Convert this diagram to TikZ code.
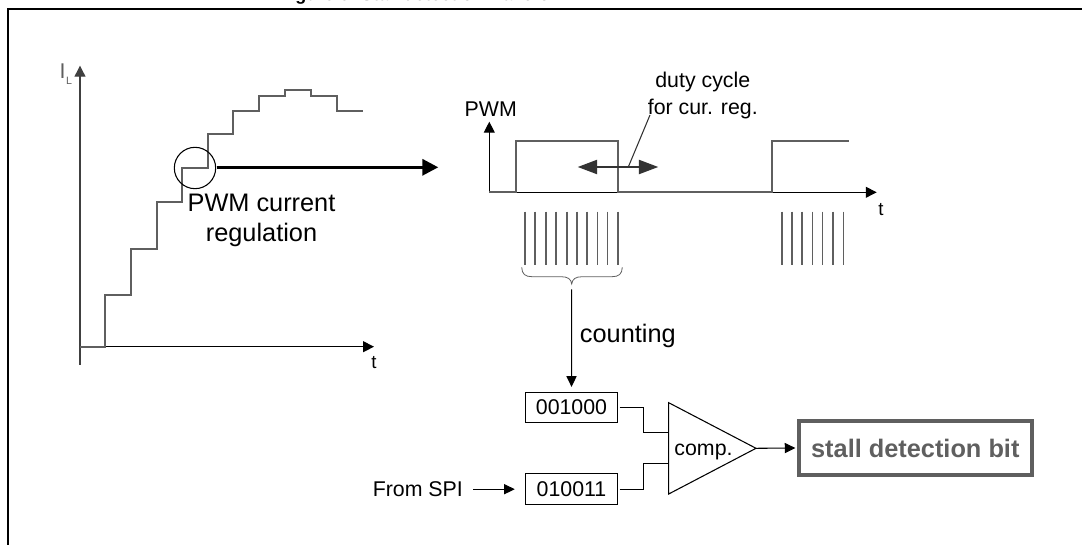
\documentclass[tikz,border=0pt]{standalone}
\usepackage{fontspec}
\setmainfont{Liberation Sans}
\usetikzlibrary{arrows.meta}
\definecolor{gr}{HTML}{5F5F5F}
\definecolor{dk}{HTML}{333333}
\tikzset{
 axis/.style={draw=black,line width=0.85pt,-{Triangle[length=8.2pt,width=8.2pt]}},
 trace/.style={draw=gr,line width=1.25pt,line join=miter},
 conn/.style={draw=black,line width=0.8pt},
 arr/.style={draw=black,line width=0.8pt,-{Triangle[length=8pt,width=7.6pt]}},
 reg/.style={draw=black,line width=0.8pt,minimum width=69.3pt,minimum height=23pt,inner sep=0pt,font=\fontsize{16}{16}\selectfont},
 txt/.style={inner sep=0pt,anchor=base,align=center,font=\fontsize{16}{20}\selectfont},
 txtl/.style={inner sep=0pt,anchor=base,align=center,font=\fontsize{19}{22.5}\selectfont},
 tickmark/.style={draw=gr,line width=1.2pt}
}
\begin{document}
\begin{tikzpicture}[x=0.75pt,y=-0.75pt]
\useasboundingbox (0,0) rectangle (1082,545);
\begin{scope}
\clip (0,0) rectangle (1082,545);
\node[anchor=base west,inner sep=0pt,font=\bfseries\fontsize{13.5}{13.5}\selectfont] (title) at (279,0.3) {Figure 6. Stall detection waveform};
\end{scope}
\coordinate (f0) at (7.7,545); \coordinate (f1) at (7.7,9); \coordinate (f2) at (1082,9);
\draw[line width=1.5pt,line join=miter] (f0) -- (f1) -- (f2);
% left plot
\coordinate (o) at (80,346.7); \coordinate (ybot) at (80,365); \coordinate (yend) at (80,65.7); \coordinate (xend) at (374,346.7);
\draw[axis,draw=black!75] (ybot) -- (yend);
\draw[axis] (o) -- (xend);
\draw[trace] (o) -- (105.3,346.7) -- (105.3,295) -- (131,295) -- (131,249) -- (156.7,249) -- (156.7,202.3) -- (182.3,202.3) -- (182.3,167.7) -- (207.7,167.7) -- (207.7,134) -- (233.3,134) -- (233.3,111) -- (259.3,111) -- (259.3,96) -- (285,96) -- (285,90.3) -- (310.7,90.3) -- (310.7,96) -- (336.7,96) -- (336.7,111.3) -- (362.7,111.3);
\node[inner sep=0pt,anchor=base,text=gr,font=\fontsize{16}{16}\selectfont] (il) at (62.5,78.3) {I};
\node[inner sep=0pt,anchor=base,text=gr,font=\fontsize{8}{8}\selectfont] (ils) at (69.2,85) {L};
\node[inner sep=0pt,anchor=base,font=\fontsize{14}{14}\selectfont] (tl) at (374,368.3) {t};
\node[circle,draw=black,line width=0.8pt,minimum size=31pt,inner sep=0pt] (circ) at (195,168) {};
\coordinate (bigstart) at (216.7,167.3); \coordinate (bigend) at (438.3,167.3);
\draw[line width=2.5pt,-{Triangle[length=12pt,width=12pt]}] (bigstart) -- (bigend);
\node[txtl] (pwmreg) at (261.5,241.7) {PWM current\\regulation};
% PWM plot
\node[txt] (pwm) at (490.8,116.7) {PWM};
\coordinate (p0) at (489.3,192.3); \coordinate (py) at (489.3,121.7); \coordinate (px) at (876.7,192.3);
\draw[axis] (p0) -- (py);
\draw[axis] (p0) -- (px);
\draw[trace] (p0) -- (515.7,192.3) -- (515.7,141.3) -- (617.7,141.3) -- (617.7,192.3) -- (771.7,192.3) -- (771.7,141.3) -- (849.3,141.3);
\node[inner sep=0pt,anchor=base,font=\fontsize{14}{14}\selectfont] (tp) at (881,216) {t};
\node[txt] (duty) at (702.8,114.3) {duty cycle\\for cur. reg.};
\coordinate (da) at (577.7,167); \coordinate (db) at (658.3,167); \coordinate (dm) at (628.3,167); \coordinate (dt) at (650,115);
\draw[dk,line width=1.5pt,{Triangle[length=14.5pt,width=10.5pt]}-{Triangle[length=14.5pt,width=10.5pt]}] (da) -- (db);
\draw[dk,line width=0.8pt] (dm) -- (dt);
\foreach \x in {525,535,545.7,556,566.7,576.7,587,597.3,607.3,617.7}{\draw[tickmark] (\x,211.7) -- (\x,265);}
\foreach \x in {781.7,791.7,802,812.3,822.3,832.7,843.3}{\draw[tickmark] (\x,211.7) -- (\x,265);}
\coordinate (bl) at (521.7,267.3); \coordinate (br) at (622.3,267.3); \coordinate (bm) at (571.7,284);
\draw[gr,line width=0.6pt] (bl) .. controls (522,274) and (525,276.7) .. (532,276.7) -- (561,276.7) .. controls (568,276.7) and (571,279) .. (bm) .. controls (572.4,279) and (575.4,276.7) .. (582.4,276.7) -- (612,276.7) .. controls (619,276.7) and (622,274) .. (br);
\node[reg] (r1) at (571.5,407.4) {001000};
\node[reg] (r2) at (571.5,489.2) {010011};
\coordinate (stem) at (571.7,289.3);
\draw[arr,shorten >=3.5pt] (stem) -- (r1.north);
\node[txtl] (cnt) at (627.8,342.7) {counting};
\node[txt,anchor=base west] (spi) at (372.5,496.7) {From SPI};
\coordinate (s0) at (473.3,489.2);
\draw[arr,shorten >=7.5pt] (s0) -- (r2.west);
\coordinate (ta) at (668.7,402.7); \coordinate (tb) at (668.7,494); \coordinate (tc) at (756,448.3);
\draw[conn,line join=miter] (ta) -- (tc) -- (tb) -- cycle;
\node[txt] (comp) at (703.5,455) {comp.};
\coordinate (in1) at (668.7,432.7); \coordinate (in2) at (668.7,463.7);
\draw[conn,shorten <=1pt] (r1.east) -- (643.3,407.4) -- (643.3,432.7) -- (in1);
\draw[conn,shorten <=1pt] (r2.east) -- (643.3,489.2) -- (643.3,463.7) -- (in2);
\node[draw=gr,line width=2.8pt,inner sep=0pt,minimum width=175pt,minimum height=40.7pt,text=gr,font=\bfseries\fontsize{19}{19}\selectfont] (bit) at (915.3,448) {stall detection bit};
\draw[arr,shorten >=1pt] (tc) -- (bit.west);
\end{tikzpicture}
\end{document}
